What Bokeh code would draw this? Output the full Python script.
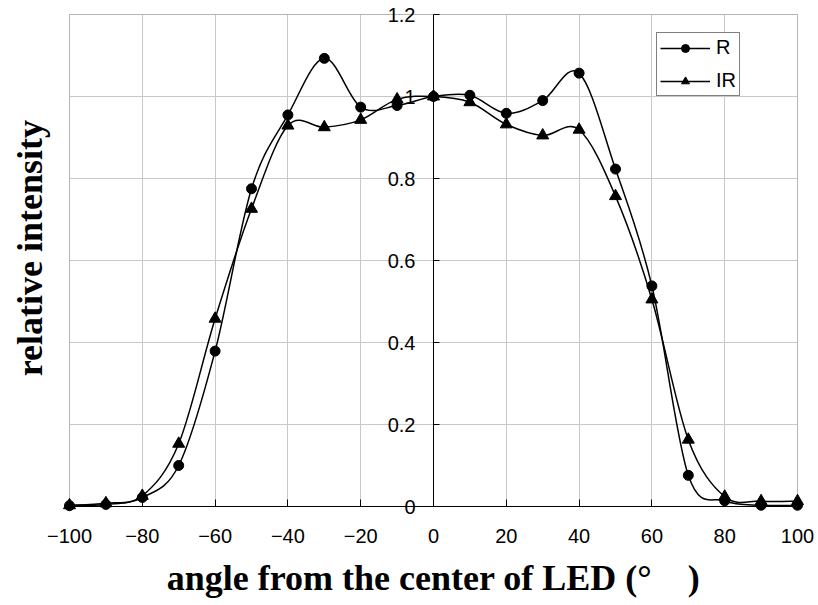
import math
from bokeh.plotting import figure
from bokeh.models import (ColumnDataSource, FixedTicker, Legend, LegendItem, Label,
                          BoxAnnotation, Range1d)
from bokeh.embed import file_html
from bokeh.resources import INLINE

# Angular distribution of an LED: relative intensity versus angle
angle = [-100, -90, -80, -70, -60, -50, -40, -30, -20, -10, 0,
         10, 20, 30, 40, 50, 60, 70, 80, 90, 100]
r_values = [0.002, 0.005, 0.022, 0.100, 0.379, 0.775, 0.955, 1.093, 0.974, 0.978, 1.000,
            1.003, 0.959, 0.990, 1.057, 0.823, 0.538, 0.076, 0.014, 0.003, 0.003]
ir_values = [0.003, 0.008, 0.026, 0.153, 0.458, 0.726, 0.929, 0.925, 0.943, 0.993, 1.000,
             0.986, 0.932, 0.905, 0.919, 0.757, 0.505, 0.163, 0.024, 0.013, 0.013]

x_ticks = [-100, -80, -60, -40, -20, 0, 20, 40, 60, 80, 100]
x_tick_labels = ["\u2212100", "\u221280", "\u221260", "\u221240", "\u221220", "0",
                 "20", "40", "60", "80", "100"]
y_ticks = [0, 0.2, 0.4, 0.6, 0.8, 1.0, 1.2]
y_tick_labels = ["0", "0.2", "0.4", "0.6", "0.8", "1", "1.2"]

X_MIN, X_MAX = -100, 100
Y_MIN, Y_MAX = 0.0, 1.2

# page size and the pixel margins around the plotting box
W, H = 818, 605
M_LEFT, M_RIGHT, M_TOP, M_BOTTOM = 69, 21, 14, 99
px_per_x = (W - M_LEFT - M_RIGHT) / (X_MAX - X_MIN)
px_per_y = (H - M_TOP - M_BOTTOM) / (Y_MAX - Y_MIN)


def smooth_segments(xs, ys):
    """Cubic Bezier pieces (Catmull-Rom style) joining consecutive points."""
    n = len(xs)
    d = dict(x0=[], y0=[], x1=[], y1=[], cx0=[], cy0=[], cx1=[], cy1=[])
    for i in range(n - 1):
        a = max(i - 1, 0)
        b = min(i + 2, n - 1)
        d["x0"].append(xs[i]); d["y0"].append(ys[i])
        d["x1"].append(xs[i + 1]); d["y1"].append(ys[i + 1])
        d["cx0"].append(xs[i] + (xs[i + 1] - xs[a]) / 6.0)
        d["cy0"].append(ys[i] + (ys[i + 1] - ys[a]) / 6.0)
        d["cx1"].append(xs[i + 1] - (xs[b] - xs[i]) / 6.0)
        d["cy1"].append(ys[i + 1] - (ys[b] - ys[i]) / 6.0)
    return ColumnDataSource(d)


# the frame fills the page; the axes sit inside it at fixed positions
p = figure(width=W, height=H,
           x_range=Range1d(X_MIN - M_LEFT / px_per_x, X_MAX + M_RIGHT / px_per_x),
           y_range=Range1d(Y_MIN - M_BOTTOM / px_per_y, Y_MAX + M_TOP / px_per_y),
           output_backend="svg", toolbar_location=None,
           min_border_left=0, min_border_right=0, min_border_top=0,
           min_border_bottom=0)
p.title.visible = False
p.background_fill_color = "white"
p.border_fill_color = "white"
p.outline_line_color = None

# grid
p.xgrid.ticker = FixedTicker(ticks=x_ticks)
p.ygrid.ticker = FixedTicker(ticks=y_ticks)
p.xgrid.cross_bounds = (Y_MIN, Y_MAX)
p.ygrid.cross_bounds = (X_MIN, X_MAX)
for g in (p.xgrid, p.ygrid):
    g.grid_line_color = "#c8c8c8"
    g.grid_line_width = 1

# plot box border
p.add_layout(BoxAnnotation(left=X_MIN, right=X_MAX, bottom=Y_MIN, top=Y_MAX,
                           fill_color=None, line_color="#8c8c8c", line_width=1,
                           level="underlay"))

tick_font = "Liberation Sans"

# x axis along y = 0
xa = p.xaxis[0]
xa.fixed_location = Y_MIN
xa.bounds = (X_MIN, X_MAX)
xa.ticker = FixedTicker(ticks=x_ticks)
xa.major_label_overrides = dict(zip(x_ticks, x_tick_labels))
xa.minor_tick_line_color = None
xa.major_tick_in = 7
xa.major_tick_out = 0
xa.axis_line_color = "black"
xa.major_tick_line_color = "black"
xa.major_label_text_font = tick_font
xa.major_label_text_font_size = "20px"
xa.major_label_text_color = "black"
xa.major_label_standoff = 22
xa.axis_label = "angle from the center of LED (\u00b0\u2003)"
xa.axis_label_text_font = "Liberation Serif"
xa.axis_label_text_font_style = "bold"
xa.axis_label_text_font_size = "36px"
xa.axis_label_text_color = "black"
xa.axis_label_standoff = 12

# y axis through x = 0
ya = p.yaxis[0]
ya.fixed_location = 0
ya.bounds = (Y_MIN, Y_MAX)
ya.ticker = FixedTicker(ticks=y_ticks)
ya.major_label_overrides = dict(zip(y_ticks, y_tick_labels))
ya.minor_tick_line_color = None
ya.major_tick_in = 6
ya.major_tick_out = 0
ya.axis_line_color = "black"
ya.major_tick_line_color = "black"
ya.major_label_text_font = tick_font
ya.major_label_text_font_size = "20px"
ya.major_label_text_color = "black"
ya.major_label_standoff = 18

p.add_layout(Label(x=X_MIN, y=0.63, x_units="data", y_units="data",
                   x_offset=-40, angle=math.pi / 2,
                   text="relative intensity", text_align="center",
                   text_baseline="middle", text_font="Liberation Serif",
                   text_font_style="bold", text_font_size="36px",
                   text_color="black"))

# series
r_curve = p.bezier(x0="x0", y0="y0", x1="x1", y1="y1", cx0="cx0", cy0="cy0",
                   cx1="cx1", cy1="cy1", source=smooth_segments(angle, r_values),
                   line_color="black", line_width=1.5)
ir_curve = p.bezier(x0="x0", y0="y0", x1="x1", y1="y1", cx0="cx0", cy0="cy0",
                    cx1="cx1", cy1="cy1", source=smooth_segments(angle, ir_values),
                    line_color="black", line_width=1.5)
r_pts = p.scatter(angle, r_values, marker="circle", size=10,
                  fill_color="black", line_color="black")
ir_pts = p.scatter(angle, ir_values, marker="triangle", size=12,
                   fill_color="black", line_color="black")

legend = Legend(items=[LegendItem(label="R", renderers=[r_curve, r_pts]),
                       LegendItem(label="IR", renderers=[ir_curve, ir_pts])],
                location=(656, H - 96), orientation="vertical")
legend.border_line_color = "black"
legend.border_line_width = 1
legend.background_fill_color = "white"
legend.background_fill_alpha = 1
legend.padding = 3
legend.spacing = 10
legend.margin = 0
legend.glyph_width = 50
legend.glyph_height = 20
legend.label_height = 20
legend.label_standoff = 6
legend.label_text_font = tick_font
legend.label_text_font_size = "20px"
legend.label_text_color = "black"
p.add_layout(legend, "center")

open("out.html", "w").write(file_html(p, INLINE))
